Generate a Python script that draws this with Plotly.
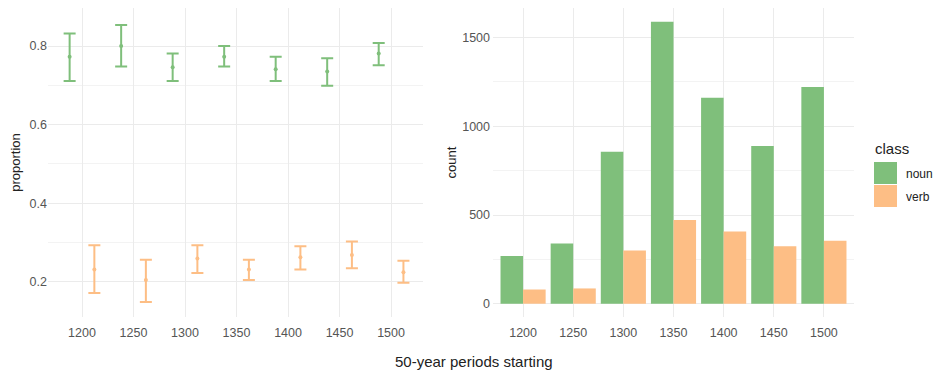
import plotly.graph_objects as go

periods = [1200, 1250, 1300, 1350, 1400, 1450, 1500]
period_labels = ["1200", "1250", "1300", "1350", "1400", "1450", "1500"]

noun_prop = [0.773, 0.800, 0.746, 0.773, 0.741, 0.735, 0.781]
noun_upper = [0.832, 0.854, 0.781, 0.800, 0.773, 0.769, 0.808]
noun_lower = [0.711, 0.748, 0.711, 0.748, 0.711, 0.699, 0.751]

verb_prop = [0.231, 0.204, 0.259, 0.231, 0.262, 0.268, 0.224]
verb_upper = [0.293, 0.256, 0.293, 0.256, 0.290, 0.302, 0.253]
verb_lower = [0.171, 0.148, 0.222, 0.204, 0.231, 0.234, 0.197]

noun_count = [269, 339, 857, 1590, 1161, 889, 1221]
verb_count = [80, 86, 300, 472, 407, 324, 355]

classes = ["noun", "verb"]
NOUN_C = "#7fbf7b"
VERB_C = "#fdbe85"
DODGE = 12

FONT = "Liberation Sans, Arial, sans-serif"
TICK_C = "#555555"
GRID = "#ebebeb"
GRID_MINOR = "#f3f3f3"

fig = go.Figure()

def err_trace(x, c, up, lo, color):
    return go.Scatter(
        x=x, y=c, mode="markers",
        marker=dict(color=color, size=4),
        error_y=dict(type="data", symmetric=False,
                     array=[u - m for u, m in zip(up, c)],
                     arrayminus=[m - l for m, l in zip(c, lo)],
                     color=color, thickness=2, width=6),
        showlegend=False, xaxis="x", yaxis="y")

fig.add_trace(err_trace([p - DODGE for p in periods], noun_prop, noun_upper, noun_lower, NOUN_C))
fig.add_trace(err_trace([p + DODGE for p in periods], verb_prop, verb_upper, verb_lower, VERB_C))

fig.add_trace(go.Bar(x=period_labels, y=noun_count, name="noun", marker=dict(color=NOUN_C, line=dict(width=0)),
                     xaxis="x2", yaxis="y2", showlegend=False))
fig.add_trace(go.Bar(x=period_labels, y=verb_count, name="verb", marker=dict(color=VERB_C, line=dict(width=0)),
                     xaxis="x2", yaxis="y2", showlegend=False))

ydom = [1 - 317 / 372, 1 - 8 / 372]
axis_common = dict(showline=False, zeroline=False, ticks="", gridcolor=GRID, gridwidth=1,
                   automargin=False,
                   tickfont=dict(family=FONT, size=12.5, color=TICK_C))

fig.update_layout(
    width=938, height=372,
    margin=dict(l=0, r=0, t=0, b=0),
    paper_bgcolor="white", plot_bgcolor="white",
    barmode="group", bargap=0.1, bargroupgap=0,
    font=dict(family=FONT),
    xaxis=dict(domain=[48 / 938, 423 / 938], range=[1167, 1531], tickvals=periods,
               ticktext=period_labels, anchor="y", ticklabelstandoff=6, **axis_common),
    yaxis=dict(domain=ydom, range=[0.110, 0.897], tickvals=[0.2, 0.4, 0.6, 0.8],
               ticktext=["0.2", "0.4", "0.6", "0.8"], anchor="x",
               minor=dict(tickvals=[0.3, 0.5, 0.7], showgrid=True, gridcolor=GRID_MINOR, ticks=""),
               title=dict(text="proportion", font=dict(family=FONT, size=13, color="#222"), standoff=6),
               **axis_common),
    xaxis2=dict(domain=[493 / 938, 854 / 938], type="category", range=[-0.6, 6.6], anchor="y2",
                ticklabelstandoff=6, **axis_common),
    yaxis2=dict(domain=ydom, range=[-75, 1667], tickvals=[0, 500, 1000, 1500], anchor="x2",
                minor=dict(tickvals=[250, 750, 1250], showgrid=True, gridcolor=GRID_MINOR, ticks=""),
                title=dict(text="count", font=dict(family=FONT, size=13, color="#222"), standoff=2),
                ticklabelstandoff=2, **axis_common),
)

# x-axis title
fig.add_annotation(text="50-year periods starting", x=474 / 938, y=1 - 361 / 372,
                   xref="paper", yref="paper", xanchor="center", yanchor="middle", showarrow=False,
                   font=dict(family=FONT, size=15, color="#222"))

# manual legend
fig.add_annotation(text="class", x=873 / 938, y=1 - 148 / 372, xref="paper", yref="paper",
                   xanchor="left", yanchor="middle", showarrow=False,
                   font=dict(family=FONT, size=15, color="#222"))
legend_rows = [(classes[0], NOUN_C, 162, 184), (classes[1], VERB_C, 185, 207)]
for label, color, y0, y1 in legend_rows:
    fig.add_shape(type="rect", xref="paper", yref="paper",
                  x0=874 / 938, x1=897 / 938, y0=1 - y1 / 372, y1=1 - y0 / 372,
                  fillcolor=color, line=dict(width=0))
    fig.add_annotation(text=label, x=904 / 938, y=1 - ((y0 + y1) / 2 + 1) / 372,
                       xref="paper", yref="paper", xanchor="left", yanchor="middle", showarrow=False,
                       font=dict(family=FONT, size=12, color="#222"))

fig.write_html("out.html", config={"displayModeBar": False},
               post_script="document.body.style.margin='0';document.body.style.overflow='hidden';")
